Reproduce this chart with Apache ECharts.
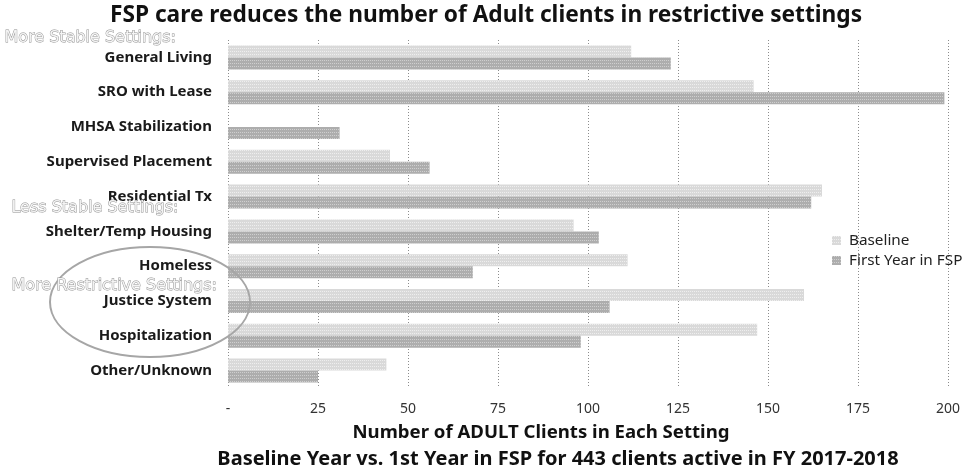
<!DOCTYPE html>
<html>
<head>
<meta charset="utf-8">
<script src="https://cdn.jsdelivr.net/npm/echarts@6/dist/echarts.min.js"></script>
<style>
  html, body { margin: 0; padding: 0; background: #fff; }
  #chart { width: 968px; height: 471px; }
</style>
</head>
<body>
<div id="chart"></div>
<script>
// Living settings, top to bottom
const categories = [
  'General Living', 'SRO with Lease', 'MHSA Stabilization', 'Supervised Placement',
  'Residential Tx', 'Shelter/Temp Housing', 'Homeless', 'Justice System',
  'Hospitalization', 'Other/Unknown'
];
// Number of adult clients in each setting
const baselineValues = [112, 146, 0, 45, 165, 96, 111, 160, 147, 44];
const firstYearValues = [123, 199, 31, 56, 162, 103, 68, 106, 98, 25];
const seriesNames = ['Baseline', 'First Year in FSP'];
const tickValues = [0, 25, 50, 75, 100, 125, 150, 175, 200];

const FONT = '"Noto Sans", "Open Sans", sans-serif';
const chart = echarts.init(document.getElementById('chart'), null, { renderer: 'canvas' });

function speckle(color) {
  return { symbol: 'rect', symbolSize: 1, dashArrayX: [1, 1], dashArrayY: [1, 2], color: color, rotation: 0 };
}

// Hollow grey headings that split the settings into groups
const groupLabel = (text, x, y) => ({
  type: 'text', left: x, top: y,
  style: {
    text: text, fill: '#f4f4f4', stroke: '#8f8f8f', lineWidth: 0.9,
    fontSize: 16, fontFamily: '"DejaVu Sans", sans-serif'
  },
  z: 10
});

chart.setOption({
  animation: false,
  backgroundColor: '#ffffff',
  textStyle: { fontFamily: FONT },
  title: [
    {
      text: 'FSP care reduces the number of Adult clients in restrictive settings',
      left: 486, top: 4, textAlign: 'center', padding: 0,
      textStyle: { fontFamily: FONT, fontSize: 22.7, fontWeight: 'bold', color: '#111' }
    },
    {
      text: 'Number of ADULT Clients in Each Setting',
      left: 541, top: 423, textAlign: 'center', padding: 0,
      textStyle: { fontFamily: FONT, fontSize: 18.6, fontWeight: 'bold', color: '#111' }
    },
    {
      text: 'Baseline Year vs. 1st Year in FSP for 443 clients active in FY 2017-2018',
      left: 558, top: 449, textAlign: 'center', padding: 0,
      textStyle: { fontFamily: FONT, fontSize: 20, fontWeight: 'bold', color: '#111' }
    }
  ],
  legend: {
    orient: 'vertical',
    left: 832, top: 233, padding: 0,
    itemWidth: 9, itemHeight: 9, itemGap: 5,
    icon: 'rect',
    textStyle: { fontFamily: FONT, fontSize: 15.3, color: '#222', padding: [0, 0, 0, 3] },
    data: seriesNames
  },
  grid: { left: 228, right: 20, top: 40, bottom: 83, containLabel: false },
  xAxis: {
    type: 'value',
    min: tickValues[0], max: tickValues[tickValues.length - 1], interval: 25,
    axisLine: { show: false },
    axisTick: { show: false },
    axisLabel: {
      margin: 14, fontFamily: FONT, fontSize: 14, color: '#333',
      formatter: v => (v === 0 ? '-' : String(v))
    },
    splitLine: { show: true, lineStyle: { color: '#8c8c8c', type: [1, 2], width: 1 } }
  },
  yAxis: {
    type: 'category',
    inverse: true,
    data: categories,
    axisLine: { show: false },
    axisTick: { show: false },
    axisLabel: { margin: 16, fontFamily: FONT, fontSize: 15, fontWeight: 'bold', color: '#1a1a1a' }
  },
  series: [
    {
      name: seriesNames[0], type: 'bar', data: baselineValues,
      barWidth: 12, barGap: '0%',
      itemStyle: { color: '#d9d9d9', decal: speckle('rgba(255,255,255,0.55)') }
    },
    {
      name: seriesNames[1], type: 'bar', data: firstYearValues,
      barWidth: 12, barGap: '0%',
      itemStyle: { color: '#adadad', decal: speckle('rgba(230,230,230,0.6)') }
    }
  ],
  graphic: [
    groupLabel('More Stable Settings:', 4, 29),
    groupLabel('Less Stable Settings:', 11, 199),
    groupLabel('More Restrictive Settings:', 11, 277),
    {
      type: 'ellipse',
      shape: { cx: 150, cy: 302, rx: 100, ry: 55 },
      style: { fill: 'none', stroke: '#a6a6a6', lineWidth: 2 },
      z: 5
    }
  ]
});
</script>
</body>
</html>
